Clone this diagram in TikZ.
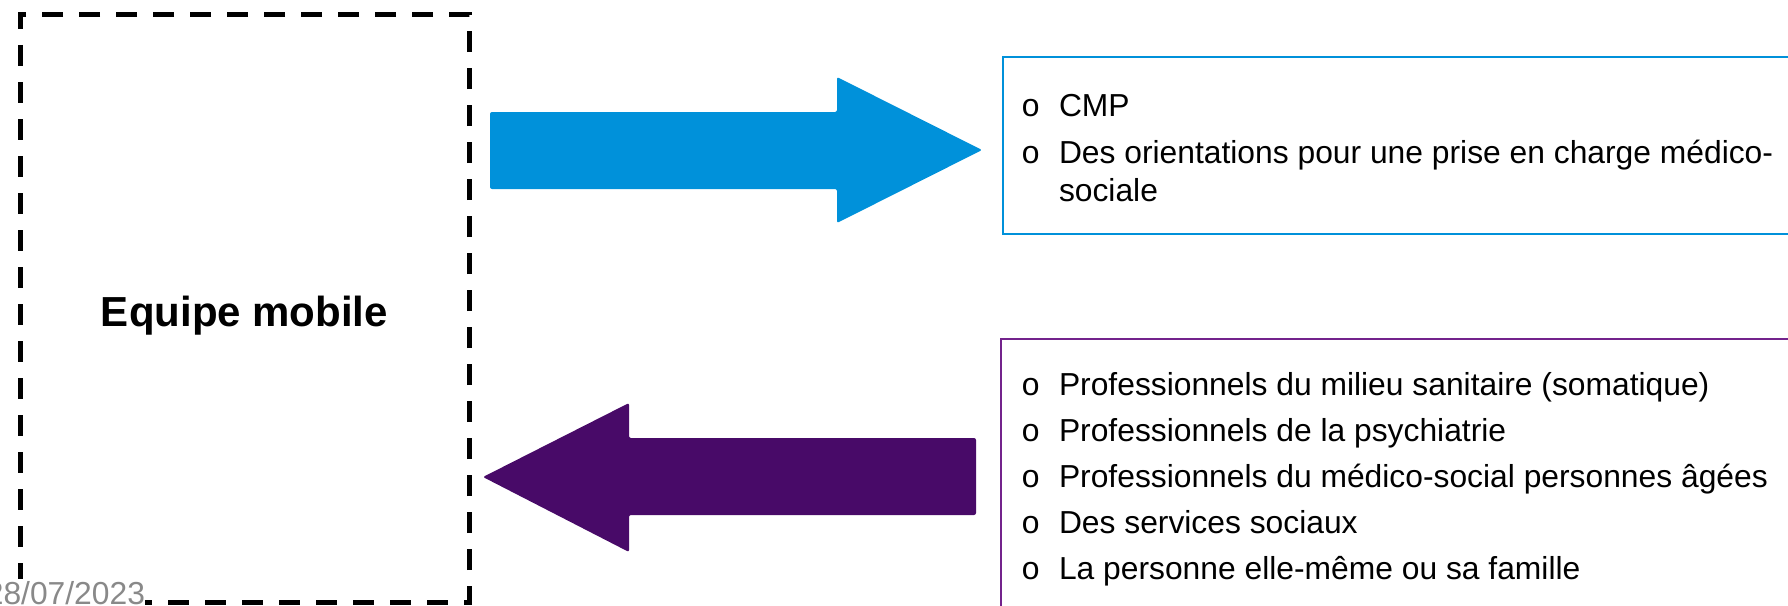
\documentclass[tikz,border=0pt]{standalone}
\usepackage{fontspec}
\setmainfont{Liberation Sans}
\newfontfamily\bulletfont{Liberation Mono}
\definecolor{arrowblue}{RGB}{0,145,218}
\definecolor{arrowpurple}{RGB}{72,10,104}
\definecolor{boxblue}{RGB}{0,145,218}
\definecolor{boxpurple}{RGB}{115,35,140}
\definecolor{dategray}{RGB}{137,137,137}

\begin{document}
\begin{tikzpicture}[x=0.5pt,y=-0.5pt,
  every node/.style={inner sep=0pt, outer sep=0pt, font=\fontsize{15.9}{19}\selectfont},
  item/.style={anchor=base west},
  bul/.style={anchor=base west, font=\bulletfont\fontsize{16}{18}\selectfont}]

\useasboundingbox (0,0) rectangle (1788,605);
\clip (0,0) rectangle (1788,605);

\node (eqbox) [draw, line width=2.5pt, dash pattern=on 10.5pt off 8pt,
  minimum width=224.5pt, minimum height=294pt] at (244.5,308) {};
\node (eqnode) [anchor=base, font=\bfseries\fontsize{21}{25}\selectfont] at (244.5,326) {Equipe mobile};
\node (datenode) [anchor=base east, text=dategray, fill=white, inner ysep=1pt] at (145,604) {28/07/2023};

\fill[arrowblue, rounded corners=1pt] (490,112) -- (837,112) -- (837,77) -- (982,150)
  -- (837,223) -- (837,189) -- (490,189) -- cycle;
\fill[arrowpurple, rounded corners=1pt] (976,438) -- (629,438) -- (629,403) -- (483,477)
  -- (629,552) -- (629,515) -- (976,515) -- cycle;

\node (cmpbox) [draw=boxblue, line width=0.8pt, anchor=north west,
  minimum width=400pt, minimum height=88.5pt] at (1003,57) {};
\node (b1) [bul] at (1021,116) {o};
\node (cmpnode) [item] at (1059,116) {CMP};
\node (b2) [bul] at (1021,163) {o};
\node (desnode) [item] at (1059,163) {Des orientations pour une prise en charge médico-};
\node (socnode) [item] at (1059,201) {sociale};

\node (srcbox) [draw=boxpurple, line width=0.8pt, anchor=north west,
  minimum width=400pt, minimum height=140pt] at (1001,339) {};
\node (b3) [bul] at (1021,395) {o};
\node (sannode) [item] at (1059,395) {Professionnels du milieu sanitaire (somatique)};
\node (b4) [bul] at (1021,441) {o};
\node (psynode) [item] at (1059,441) {Professionnels de la psychiatrie};
\node (b5) [bul] at (1021,487) {o};
\node (mednode) [item] at (1059,487) {Professionnels du médico-social personnes âgées};
\node (b6) [bul] at (1021,533) {o};
\node (socsnode) [item] at (1059,533) {Des services sociaux};
\node (b7) [bul] at (1021,579) {o};
\node (famnode) [item] at (1059,579) {La personne elle-même ou sa famille};

\end{tikzpicture}
\end{document}
